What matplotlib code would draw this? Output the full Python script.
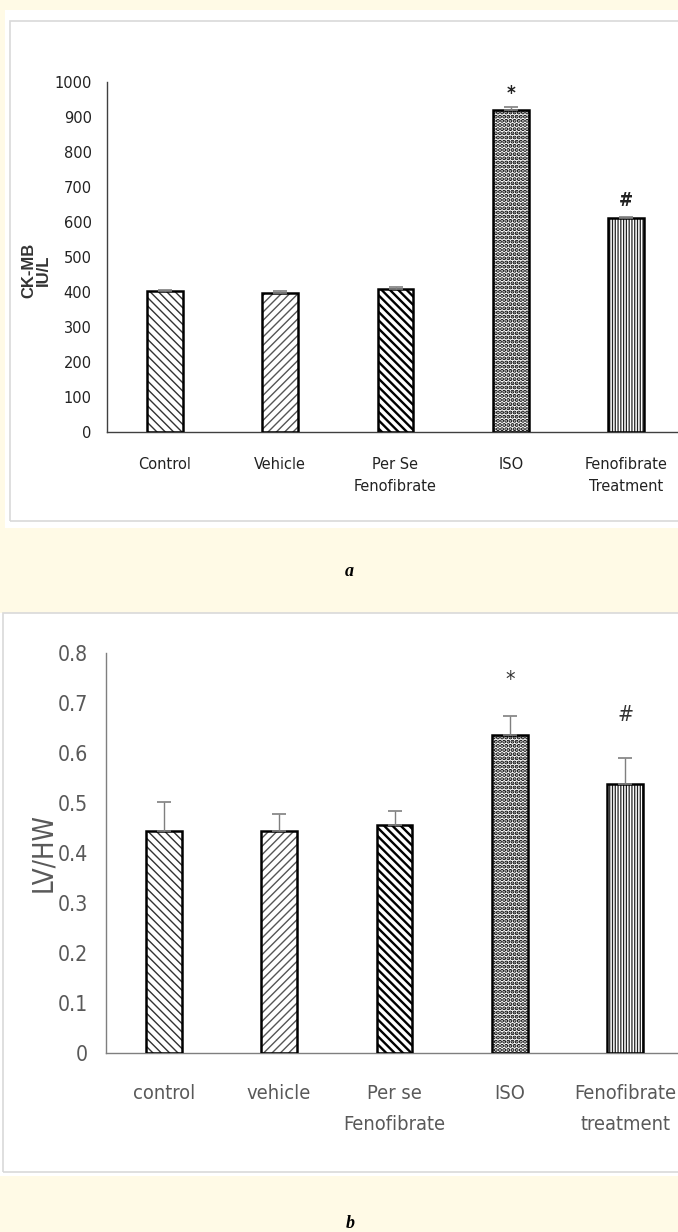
import numpy as np
import matplotlib
matplotlib.use("Agg")
import matplotlib.pyplot as plt
from matplotlib import font_manager
from matplotlib.patches import Rectangle

# ------------------------------------------------------------------
# data
# ------------------------------------------------------------------
groups_a = ["Control", "Vehicle", "Per Se\nFenofibrate", "ISO", "Fenofibrate\nTreatment"]
ckmb = [402, 397, 408, 921, 611]
ckmb_err = [4, 5, 5, 7, 4]

groups_b = ["control", "vehicle", "Per se\nFenofibrate", "ISO", "Fenofibrate\ntreatment"]
lvhw = [0.444, 0.444, 0.457, 0.636, 0.538]
lvhw_err = [0.058, 0.034, 0.027, 0.038, 0.052]

marks = ["", "", "", "*", "#"]

# one hatch per group: (pattern, hatch colour, hatch width)
hatches = [("\\\\\\\\", "#333333", 1.0),
           ("////", "#555555", 1.0),
           ("\\\\\\\\", "#000000", 1.7),
           ("....", "#000000", 2.0),
           ("||||||", "#222222", 0.9)]

W, H = 678, 1232
CREAM = "#FFFAE6"

# a narrow sans (the original looks like Calibri); pick what is installed
_fonts = font_manager.fontManager.ttflist
_names = {f.name for f in _fonts}
STRETCH = "normal"
if "Liberation Sans Narrow" in _names:
    FONT = ["Liberation Sans Narrow", "DejaVu Sans"]
    SCALE = 1.0
elif any(f.name == "DejaVu Sans" and f.stretch in ("condensed", 500) for f in _fonts):
    FONT = ["DejaVu Sans"]
    STRETCH = "condensed"
    SCALE = 0.9
else:
    FONT = ["Liberation Sans", "DejaVu Sans"]
    SCALE = 0.86

plt.rcParams["font.family"] = FONT
plt.rcParams["font.stretch"] = STRETCH

fig = plt.figure(figsize=(W / 100, H / 100), dpi=100)
fig.patch.set_facecolor(CREAM)


def px_box(x0, y0, x1, y1, **kw):
    """rectangle given in pixel coords (origin top-left)"""
    r = Rectangle((x0 / W, 1 - y1 / H), (x1 - x0) / W, (y1 - y0) / H,
                  transform=fig.transFigure, **kw)
    fig.patches.append(r)


def px_axes(left, top, right, bottom):
    return fig.add_axes([left / W, 1 - bottom / H, (right - left) / W, (bottom - top) / H])


# white panels with thin grey frames (behind the axes)
px_box(5, 10, 690, 528, facecolor="white", edgecolor="none", zorder=-3)
px_box(10, 21, 690, 521, facecolor="none", edgecolor="#D9D9D9", lw=1.2, zorder=-2)
px_box(0, 613, 690, 1176, facecolor="white", edgecolor="none", zorder=-3)
px_box(3, 613, 690, 1172, facecolor="none", edgecolor="#D9D9D9", lw=1.2, zorder=-2)


def draw_bars(ax, values, errs, spine_col):
    x = np.arange(len(values))
    for i in range(len(values)):
        pat, hcol, hlw = hatches[i]
        with plt.rc_context({"hatch.linewidth": hlw, "hatch.color": hcol}):
            ax.bar(x[i], values[i], width=0.31, color="white",
                   edgecolor=hcol, linewidth=0, hatch=pat, zorder=2)
    ax.bar(x, values, width=0.31, facecolor="none", edgecolor="black",
           linewidth=1.8, zorder=3)
    ax.errorbar(x, values, yerr=[np.zeros(len(errs)), errs], fmt="none",
                ecolor="#7F7F7F", elinewidth=1.0, capsize=5, capthick=1.2, zorder=4)
    ax.set_xlim(-0.5, len(values) - 0.5)
    ax.set_facecolor("none")
    for s in ["top", "right"]:
        ax.spines[s].set_visible(False)
    for s in ["left", "bottom"]:
        ax.spines[s].set_color(spine_col)
        ax.spines[s].set_linewidth(1.0)
    ax.tick_params(length=0)
    return x


# ---------------- panel a : CK-MB ----------------
ax1 = px_axes(107, 82, 684, 432)
x = draw_bars(ax1, ckmb, ckmb_err, "#404040")
ax1.set_ylim(0, 1000)
ax1.set_yticks(np.arange(0, 1001, 100))
ax1.tick_params(axis="y", labelsize=13 * SCALE, pad=11, labelcolor="#222222")
ax1.set_xticks(x)
ax1.set_xticklabels(groups_a, fontsize=13 * SCALE, color="#222222", linespacing=1.6)
ax1.tick_params(axis="x", pad=18)
for i, m in enumerate(marks):
    if m:
        ax1.annotate(m, (x[i], ckmb[i] + ckmb_err[i]), xytext=(0, 10 if m == "*" else 12),
                     textcoords="offset points", ha="center", va="center",
                     fontsize=15 * SCALE, fontweight="bold", color="#222222")
fig.text(36 / W, 1 - 270 / H, "CK-MB\nIU/L", rotation=90, ha="center", va="center",
         fontsize=12, fontweight="bold", family=["Liberation Sans", "DejaVu Sans"],
         fontstretch="normal", color="#333333", linespacing=0.95)

fig.text(349 / W, 1 - 572 / H, "a", ha="center", va="center", fontsize=13,
         fontweight="bold", fontstyle="italic", fontstretch="normal",
         family=["Liberation Serif", "DejaVu Serif"])

# ---------------- panel b : LV/HW ----------------
ax2 = px_axes(106, 653, 683, 1053)
x = draw_bars(ax2, lvhw, lvhw_err, "#7F7F7F")
ax2.set_ylim(0, 0.8)
ax2.set_yticks(np.arange(0, 0.81, 0.1))
ax2.set_yticklabels(["0"] + ["%.1f" % v for v in np.arange(0.1, 0.81, 0.1)])
ax2.tick_params(axis="y", labelsize=17 * SCALE, pad=13, labelcolor="#595959")
ax2.set_xticks(x)
ax2.set_xticklabels(groups_b, fontsize=16 * SCALE, color="#595959", linespacing=1.85)
ax2.tick_params(axis="x", pad=22)
for i, m in enumerate(marks):
    if m:
        ax2.annotate(m, (x[i], lvhw[i] + lvhw_err[i]), xytext=(0, 26 if m == "*" else 31),
                     textcoords="offset points", ha="center", va="center",
                     fontsize=17 * SCALE, color="#333333")
fig.text(43 / W, 1 - 852 / H, "LV/HW", rotation=90, ha="center", va="center",
         fontsize=22 * SCALE, color="#595959")

fig.text(350 / W, 1 - 1223 / H, "b", ha="center", va="center", fontsize=13,
         fontweight="bold", fontstyle="italic", fontstretch="normal",
         family=["Liberation Serif", "DejaVu Serif"])

fig.savefig("out.png", dpi=100, facecolor=fig.get_facecolor())
